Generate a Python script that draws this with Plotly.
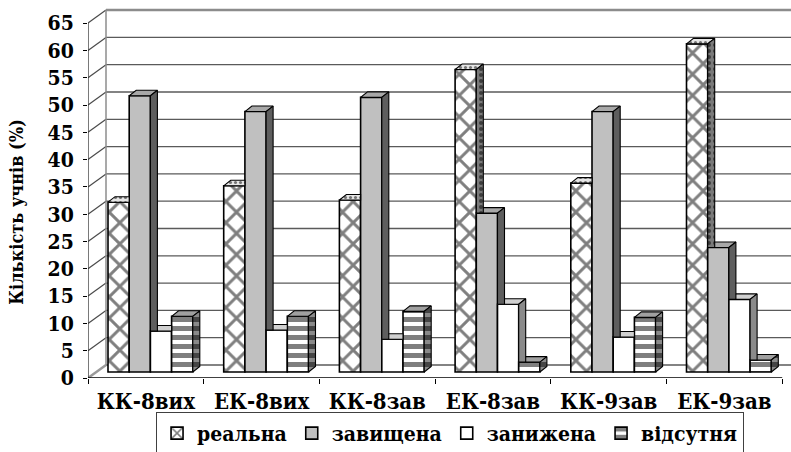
import plotly.graph_objects as go

# ---- data -------------------------------------------------------------
categories = ["КК-8вих", "ЕК-8вих", "КК-8зав", "ЕК-8зав", "КК-9зав", "ЕК-9зав"]
series_names = ["реальна", "завищена", "занижена", "відсутня"]
real = [31.1, 34.1, 31.5, 55.4, 34.6, 60.1]
overstated = [50.6, 47.7, 50.3, 29.1, 47.7, 22.8]
understated = [7.5, 7.7, 6.0, 12.4, 6.4, 13.3]
absent = [10.2, 10.2, 11.1, 1.8, 10.0, 2.2]
y_ticks = list(range(0, 70, 5))

series_values = [real, overstated, understated, absent]

# ---- geometry of the pseudo-3D box (pixels converted to axis units) ---
PX_X = 115.7          # pixels per category
PX_Y = 5.46           # pixels per percent
PLOT_W, PLOT_H = 703, 378
X_MIN = -0.5
X_MAX = X_MIN + PLOT_W / PX_X
Y_MAX = PLOT_H / PX_Y
WALL_DX, WALL_DY = 18 / PX_X, 13 / PX_Y
BAR_BASE = 6 / PX_Y
BAR_W = 21.2 / PX_X
BAR_OFF = 20 / PX_X - 0.5
BAR_DX, BAR_DY = 7 / PX_X, 5.5 / PX_Y

SERIF = "DejaVu Serif Condensed, DejaVu Serif"

# front face, top face and side face styles for each series
front_styles = [
    dict(color="white", pattern=dict(shape="x", fgcolor="black", bgcolor="white", size=15, solidity=0.35)),
    dict(color="#c0c0c0"),
    dict(color="white"),
    dict(color="white", pattern=dict(shape="-", fgcolor="black", bgcolor="white", size=9, solidity=0.55)),
]
top_styles = [
    ("#e6e6e6", dict(shape=".", fgcolor="black", bgcolor="#e6e6e6", size=5, solidity=0.3)),
    ("#a8a8a8", None),
    ("#d0d0d0", None),
    ("#a0a0a0", None),
]
side_styles = [
    ("#7a7a7a", dict(shape=".", fgcolor="black", bgcolor="#7a7a7a", size=6, solidity=0.35)),
    ("#5e5e5e", None),
    ("#8a8a8a", None),
    ("#8a8a8a", dict(shape="-", fgcolor="black", bgcolor="#8a8a8a", size=9, solidity=0.55)),
]

fig = go.Figure()

# front faces of the columns
for i, (name, vals) in enumerate(zip(series_names, series_values)):
    fig.add_trace(go.Bar(
        name=name,
        x=list(range(len(categories))),
        y=vals,
        base=BAR_BASE,
        width=BAR_W,
        offset=BAR_OFF + i * BAR_W,
        marker=dict(line=dict(color="black", width=1.6), **front_styles[i]),
        hoverinfo="skip",
    ))


def face(xs, ys, fill, pattern):
    return go.Scatter(
        x=xs + [xs[0]], y=ys + [ys[0]], mode="lines", fill="toself",
        fillcolor=fill, fillpattern=pattern,
        line=dict(color="black", width=1.1),
        hoverinfo="skip", showlegend=False,
    )


# top and side faces, clipped where the neighbouring column hides them
for c in range(len(categories)):
    tops = [BAR_BASE + vals[c] for vals in series_values]
    top_faces, side_faces = [], []
    for i, t in enumerate(tops):
        x0 = c + BAR_OFF + i * BAR_W
        x1 = x0 + BAR_W
        nxt = tops[i + 1] if i + 1 < len(tops) else None
        if nxt is not None and nxt > t:
            xs = [x0, x1, x1, x0 + BAR_DX]
        else:
            xs = [x0, x1, x1 + BAR_DX, x0 + BAR_DX]
        ys = [t, t, t + BAR_DY, t + BAR_DY]
        top_faces.append(face(xs, ys, *top_styles[i]))
        low = BAR_BASE if nxt is None else nxt
        if nxt is None or nxt < t:
            xs = [x1, x1, x1 + BAR_DX, x1 + BAR_DX]
            ys = [low, t, t + BAR_DY, low + (BAR_DY if nxt is None else 0)]
            side_faces.append(face(xs, ys, *side_styles[i]))
    for tr in top_faces + side_faces:
        fig.add_trace(tr)

# walls, floor and gridlines
shapes = []
for v in y_ticks:
    top = v == y_ticks[-1]
    shapes.append(dict(type="line", xref="x", yref="y",
                       x0=X_MIN + WALL_DX, y0=v + WALL_DY, x1=X_MAX, y1=v + WALL_DY,
                       line=dict(color="#8c8c8c" if top else "#5a5a5a", width=2.5 if top else 1.3),
                       layer="below"))
    shapes.append(dict(type="line", xref="x", yref="y",
                       x0=X_MIN, y0=v, x1=X_MIN + WALL_DX, y1=v + WALL_DY,
                       line=dict(color="#9a9a9a" if v == 0 else "#4a4a4a", width=2.5 if v == 0 else 1.2),
                       layer="below"))
shapes.append(dict(type="line", xref="x", yref="y",
                   x0=X_MIN + WALL_DX, y0=WALL_DY, x1=X_MIN + WALL_DX, y1=y_ticks[-1] + WALL_DY,
                   line=dict(color="#8c8c8c", width=1.5), layer="below"))
shapes.append(dict(type="line", xref="x", yref="y",
                   x0=X_MIN, y0=0, x1=X_MIN, y1=y_ticks[-1],
                   line=dict(color="#303030", width=1.3), layer="below"))
shapes.append(dict(type="line", xref="x", yref="y",
                   x0=X_MIN, y0=0, x1=len(categories) - 0.5, y1=0,
                   line=dict(color="black", width=1.5), layer="below"))

fig.update_layout(
    width=791, height=452,
    margin=dict(l=88, r=0, t=0, b=74, autoexpand=False),
    paper_bgcolor="white", plot_bgcolor="white",
    barmode="overlay",
    shapes=shapes,
    showlegend=True,
    legend=dict(
        orientation="h", x=0.515, xanchor="center", y=-0.09, yanchor="top",
        bordercolor="#404040", borderwidth=1, bgcolor="white",
        font=dict(family=SERIF, size=21, color="black", weight="bold"),
        itemwidth=30, traceorder="normal",
    ),
    xaxis=dict(
        range=[X_MIN, X_MAX], showgrid=False, zeroline=False, showline=False,
        tickmode="array", tickvals=list(range(len(categories))), ticktext=categories,
        ticks="", ticklabelstandoff=8,
        tickfont=dict(family=SERIF, size=22, color="black", weight="bold"),
        minor=dict(tickmode="array", tickvals=[k - 0.5 for k in range(len(categories) + 1)],
                   ticks="outside", ticklen=5, tickcolor="black", tickwidth=1.2),
    ),
    yaxis=dict(
        range=[0, Y_MAX], showgrid=False, zeroline=False, showline=False,
        tickmode="array", tickvals=y_ticks, ticktext=[str(v) for v in y_ticks],
        ticks="outside", ticklen=4, tickcolor="black", ticklabelstandoff=5,
        tickfont=dict(family=SERIF, size=21, color="black", weight="bold"),
    ),
    annotations=[dict(
        text="Кількість учнів (%)", textangle=-90, showarrow=False,
        xref="paper", yref="paper", x=-0.101, y=0.44, xanchor="center", yanchor="middle",
        font=dict(family=SERIF, size=18, color="black", weight="bold"),
    )],
)

fig.write_html("out.html")
